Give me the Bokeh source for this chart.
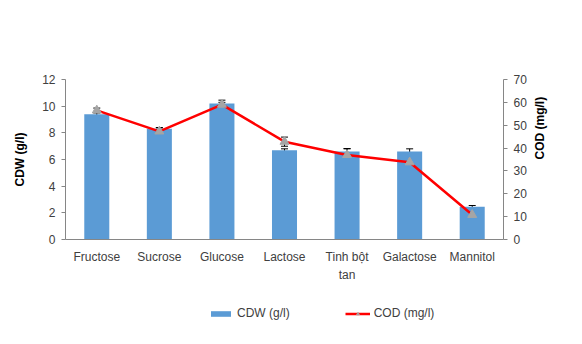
import math
from bokeh.plotting import figure
from bokeh.layouts import column
from bokeh.models import (FactorRange, Range1d, LinearAxis, FixedTicker, ColumnDataSource,
                          Whisker, Legend, LegendItem, TeeHead)
from bokeh.embed import file_html
from bokeh.resources import INLINE

categories = ["Fructose", "Sucrose", "Glucose", "Lactose", "Tinh bột\ntan", "Galactose", "Mannitol"]
cdw = [9.4, 8.3, 10.2, 6.7, 6.6, 6.6, 2.45]
cdw_err = [0.1, 0.1, 0.25, 0.1, 0.2, 0.2, 0.1]
cod = [56.5, 47.3, 59.0, 42.8, 37.0, 33.8, 10.8]
cod_err = [1.0, 1.5, 1.0, 2.0, 2.8, 1.0, 1.0]
left_ticks = [0, 2, 4, 6, 8, 10, 12]
right_ticks = [0, 10, 20, 30, 40, 50, 60, 70]
legend_labels = ["CDW (g/l)", "COD (mg/l)"]

FONT = "Liberation Sans"
GRAY = "#868686"
TXT = "#404040"
BLUE = "#5B9BD5"
RED = "#FF0000"
TRI = "#A5A5A5"

src = ColumnDataSource(dict(
    cat=categories, cdw=cdw,
    cdw_lo=[v - e for v, e in zip(cdw, cdw_err)], cdw_hi=[v + e for v, e in zip(cdw, cdw_err)],
    cod=cod,
    cod_lo=[v - e for v, e in zip(cod, cod_err)], cod_hi=[v + e for v, e in zip(cod, cod_err)],
))

p = figure(frame_width=438, frame_height=160, x_range=FactorRange(*categories), y_range=Range1d(0, 12),
           output_backend="svg", toolbar_location=None,
           min_border_left=65, min_border_right=79, min_border_top=79, min_border_bottom=51)
p.extra_y_ranges = {"cod": Range1d(0, 70)}
p.outline_line_color = None
p.xgrid.grid_line_color = None
p.ygrid.grid_line_color = None

def tee():
    return TeeHead(size=7, line_color="black", line_width=1)

p.vbar(x="cat", top="cdw", width=0.4, source=src, fill_color=BLUE, line_color=None)
p.add_layout(Whisker(base="cat", lower="cdw_lo", upper="cdw_hi", source=src,
                     line_color="black", line_width=1, upper_head=tee(), lower_head=tee()))

p.line(x="cat", y="cod", source=src, y_range_name="cod", line_color=RED, line_width=2.5)
p.scatter(x="cat", y="cod", source=src, y_range_name="cod", marker="triangle", size=9,
          fill_color=TRI, line_color=TRI)
p.add_layout(Whisker(base="cat", lower="cod_lo", upper="cod_hi", source=src, y_range_name="cod",
                     line_color="black", line_width=1, upper_head=tee(), lower_head=tee()))

def style_axis(ax):
    ax.axis_line_color = GRAY
    ax.major_tick_line_color = GRAY
    ax.minor_tick_line_color = None
    ax.major_tick_out = 4
    ax.major_tick_in = 0
    ax.major_label_text_font = FONT
    ax.major_label_text_font_size = "12px"
    ax.major_label_text_color = TXT
    ax.axis_label_text_font = FONT
    ax.axis_label_text_font_size = "12px"
    ax.axis_label_text_font_style = "bold"
    ax.axis_label_text_color = "black"

ya = p.yaxis[0]
ya.ticker = FixedTicker(ticks=left_ticks)
ya.axis_label = "CDW (g/l)"
style_axis(ya)
ya.major_label_standoff = 6
ya.axis_label_standoff = 12

ra = LinearAxis(y_range_name="cod", axis_label="COD (mg/l)", ticker=FixedTicker(ticks=right_ticks))
style_axis(ra)
ra.major_label_standoff = 6
ra.axis_label_standoff = 10
ra.axis_label_orientation = math.pi / 2
p.add_layout(ra, "right")

xa = p.xaxis[0]
style_axis(xa)
xa.major_tick_line_color = None
xa.major_label_standoff = 6
xa.major_label_text_line_height = 1.3

# legend strip below the chart (legend glyph sources sit outside the visible range)
lg = figure(width=582, height=54, x_range=Range1d(0, 1), y_range=Range1d(0, 1),
            output_backend="svg", toolbar_location=None, x_axis_location=None, y_axis_location=None,
            min_border=0)
lg.outline_line_color = None
lg.xgrid.grid_line_color = None
lg.ygrid.grid_line_color = None
offscreen = ColumnDataSource(dict(x=[-10, -11], y=[-10, -11]))
r_bar = lg.vbar(x="x", top="y", width=0.4, source=offscreen, fill_color=BLUE, line_color=None)
r_line = lg.line(x="x", y="y", source=offscreen, line_color=RED, line_width=2.5)
r_mark = lg.scatter(x="x", y="y", source=offscreen, marker="triangle", size=8, fill_color=TRI, line_color=TRI)
legend = Legend(items=[LegendItem(label=legend_labels[0], renderers=[r_bar], index=0),
                       LegendItem(label=legend_labels[1], renderers=[r_line, r_mark], index=0)],
                orientation="horizontal", location=(143, 24),
                label_text_font=FONT, label_text_font_size="12px", label_text_color=TXT,
                glyph_width=25, glyph_height=7, spacing=55, label_standoff=4,
                border_line_color=None, background_fill_alpha=0, margin=0, padding=0)
lg.add_layout(legend)

open("out.html", "w").write(file_html(column(p, lg, spacing=0), INLINE))
